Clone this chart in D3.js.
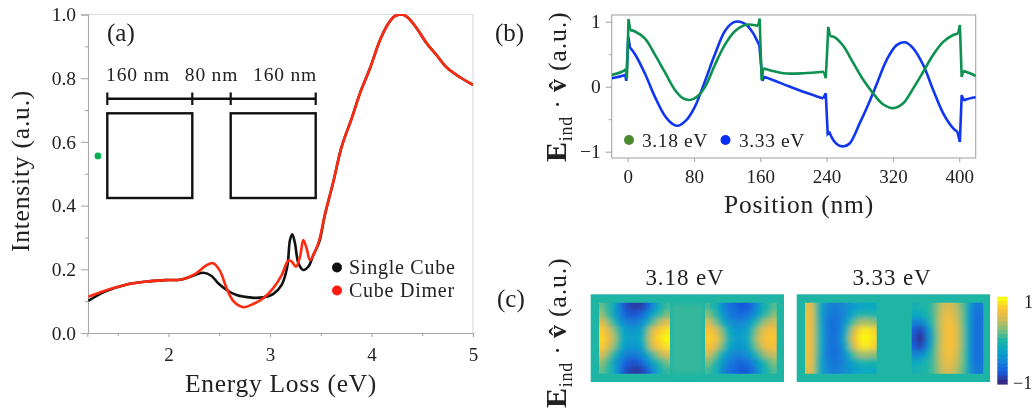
<!DOCTYPE html>
<html><head><meta charset="utf-8">
<script src="https://cdn.jsdelivr.net/npm/d3@7"></script>
<style>
html,body{margin:0;padding:0;background:#fff;overflow:hidden}
svg{display:block;filter:blur(0.45px)}
text{font-family:"Liberation Serif",serif;fill:#222}
</style></head><body><div id="c"></div>
<script>
// ---------- panel (a) data ----------
const energySingle=[1.21,1.374,1.571,1.768,1.965,2.13,2.26,2.343,2.425,2.49,2.573,2.67,2.82,2.934,3.03,3.115,3.17,3.197,3.22,3.246,3.28,3.328,3.377,3.427,3.486,3.54,3.624,3.706,3.805,3.887,3.985,4.084,4.166,4.23,4.3,4.36,4.445,4.543,4.642,4.74,4.872,5];
const intensitySingle=[.101,.13,.151,.161,.166,.168,.182,.189,.179,.156,.135,.119,.111,.112,.122,.151,.208,.292,.31,.282,.219,.198,.208,.245,.287,.37,.475,.585,.674,.753,.831,.92,.972,.995,1,.99,.957,.91,.872,.834,.803,.779];
const energyDimer=[1.21,1.374,1.571,1.768,1.965,2.13,2.26,2.376,2.44,2.507,2.573,2.64,2.737,2.835,2.934,3.03,3.115,3.18,3.214,3.256,3.296,3.328,3.36,3.394,3.443,3.486,3.54,3.624,3.706,3.805,3.887,3.985,4.084,4.166,4.23,4.3,4.36,4.445,4.543,4.642,4.74,4.872,5];
const intensityDimer=[.114,.133,.151,.161,.166,.168,.185,.213,.219,.195,.14,.1,.081,.091,.109,.14,.182,.227,.224,.208,.24,.292,.267,.229,.255,.292,.37,.475,.585,.674,.753,.831,.92,.972,.995,1,.99,.957,.91,.872,.834,.803,.779];
const greenPointE=[1.305], greenPointI=[.556];
const aXTicks=[2,3,4,5], aXMinor=[1.5,2.5,3.5,4.5];
const aYTicks=[0,.2,.4,.6,.8,1], aYMinor=[.1,.3,.5,.7,.9];
const legendA=["Single Cube","Cube Dimer"];
const schematicLabels=["160 nm","80 nm","160 nm"];
const schematicEdges=[0,160,240,400];
// ---------- panel (b) data ----------
const posGreen=[-19.3,-7,-2.4,-1,1,3,8.8,20.9,33,45,57,67,75,83,93,105,117,129,141.5,151.5,157.5,159.2,161.6,163.6,173.7,187.7,211.8,236.8,238.9,240.5,242,244,250,260,272,284,296,308,320.4,332.4,344.5,356.6,368.6,380.7,392.8,398.8,400.8,403,404.8,413,419.8];
const valGreen=[.18,.23,.268,.13,1.04,.87,.85,.74,.49,.22,-.05,-.18,-.205,-.16,-.01,.33,.64,.85,.95,.95,.935,1.05,.1,.283,.246,.206,.206,.23,.13,.5,.92,.78,.76,.63,.37,.11,-.1,-.27,-.33,-.255,-.025,.23,.49,.69,.795,.82,.95,.15,.246,.206,.165];
const posBlue=[-19.3,-7,-3,-1.7,.7,2.8,8.8,20.9,33,45,55,61,71,81,93,105,117,127,135.5,143.5,151.5,156.8,158.8,162.8,164.4,187.7,211.8,236,239,241.3,243,248,254,261,268,280,290,300,312.4,324.5,334.5,344.5,356.6,368.6,380.7,392.8,397.7,400.8,403,405.7,409,419.8];
const valBlue=[.13,.165,.18,.09,.77,.6,.5,.2,-.16,-.45,-.58,-.6,-.51,-.31,.077,.49,.85,.985,1,.95,.82,.69,.64,.09,.155,.04,-.077,-.18,-.1,-.72,-.69,-.82,-.9,-.917,-.87,-.56,-.28,.026,.41,.64,.683,.59,.334,-.05,-.41,-.64,-.69,-.85,-.13,-.215,-.194,-.163];
const jumpsGreen=[[-2.4,3],[157.5,163.6],[236.8,244],[398.8,404.8]];
const jumpsBlue=[[-3,2.8],[158.8,164.4],[236,243],[397.7,405.7]];
const bXTicks=[0,80,160,240,320,400];
const bYTicks=[-1,0,1], bYMinor=[-.5,.5];
const legendB=["3.18 eV","3.33 eV"];
// ---------- panel (c) data (value grids, rows top to bottom) ----------
const heat318a=[
[.2,.05,-.02,-.3,-.6,-.8,-.88,-.92,-.92,-.85,-.7,-.45,-.2,-.02,.08],
[.35,.12,-.05,-.32,-.55,-.7,-.8,-.8,-.75,-.6,-.4,-.18,-.02,.12,.25],
[.6,.4,.15,-.1,-.35,-.5,-.55,-.55,-.5,-.35,-.1,.15,.35,.5,.6],
[.8,.65,.45,.2,-.1,-.3,-.35,-.35,-.3,-.1,.3,.6,.75,.85,.92],
[.85,.72,.55,.3,-.05,-.25,-.3,-.3,-.25,-.05,.4,.7,.85,.95,1],
[.8,.65,.45,.2,-.1,-.3,-.35,-.35,-.3,-.1,.3,.6,.75,.85,.92],
[.6,.4,.15,-.1,-.35,-.5,-.55,-.55,-.5,-.35,-.1,.15,.35,.5,.6],
[.35,.12,-.05,-.32,-.55,-.7,-.8,-.8,-.75,-.6,-.4,-.18,-.02,.12,.25],
[.2,.05,-.02,-.3,-.6,-.8,-.88,-.92,-.92,-.85,-.7,-.45,-.2,-.02,.08]];
const heat318b=[
[.1,0,-.1,-.4,-.6,-.65,-.72,-.78,-.78,-.7,-.55,-.3,-.08,.02,.15],
[.3,.12,-.05,-.3,-.5,-.6,-.65,-.7,-.65,-.55,-.4,-.18,0,.15,.3],
[.55,.4,.15,-.1,-.3,-.45,-.5,-.5,-.45,-.3,-.1,.15,.35,.45,.5],
[.75,.7,.5,.25,-.05,-.25,-.35,-.35,-.3,-.1,.2,.45,.65,.72,.7],
[.8,.8,.65,.4,.05,-.2,-.3,-.3,-.25,-.05,.3,.55,.7,.78,.75],
[.75,.7,.5,.25,-.05,-.25,-.35,-.35,-.3,-.1,.2,.45,.65,.72,.7],
[.55,.4,.15,-.1,-.3,-.45,-.5,-.5,-.45,-.3,-.1,.15,.35,.45,.5],
[.3,.12,-.05,-.3,-.5,-.6,-.65,-.7,-.65,-.55,-.4,-.18,0,.15,.3],
[.1,0,-.1,-.4,-.6,-.65,-.72,-.78,-.78,-.7,-.55,-.3,-.08,.02,.15]];
const heat333a=[
[.6,.55,.1,-.3,-.45,-.55,-.55,-.5,-.45,-.35,-.3,-.25,-.2,-.2,-.2],
[.65,.6,.1,-.3,-.5,-.6,-.6,-.55,-.45,-.3,-.15,-.05,0,-.02,-.05],
[.65,.6,.15,-.3,-.55,-.65,-.65,-.55,-.35,-.05,.2,.35,.4,.35,.3],
[.7,.6,.15,-.25,-.55,-.65,-.65,-.5,-.2,.25,.6,.85,.95,.9,.8],
[.7,.6,.15,-.25,-.55,-.65,-.62,-.45,-.1,.4,.75,.95,1,.95,.85],
[.7,.6,.15,-.25,-.55,-.65,-.65,-.5,-.2,.25,.6,.85,.95,.9,.8],
[.65,.6,.15,-.3,-.55,-.65,-.65,-.55,-.35,-.05,.2,.35,.4,.35,.3],
[.65,.6,.1,-.3,-.5,-.6,-.6,-.55,-.45,-.3,-.15,-.05,0,-.02,-.05],
[.6,.55,.1,-.3,-.45,-.55,-.55,-.5,-.45,-.35,-.3,-.25,-.2,-.2,-.2]];
const heat333b=[
[-.1,-.05,0,0,.1,.3,.5,.55,.5,.4,.2,-.05,-.45,-.6,-.55],
[-.2,-.2,-.1,0,.1,.35,.55,.65,.6,.45,.25,-.05,-.5,-.65,-.6],
[-.5,-.55,-.4,-.15,.05,.35,.6,.7,.68,.5,.25,-.05,-.5,-.68,-.6],
[-.75,-.9,-.8,-.4,0,.35,.6,.72,.72,.55,.3,-.05,-.5,-.7,-.6],
[-.8,-1,-.9,-.5,-.05,.3,.6,.72,.72,.55,.3,-.05,-.5,-.7,-.6],
[-.75,-.9,-.8,-.4,0,.35,.6,.72,.72,.55,.3,-.05,-.5,-.7,-.6],
[-.5,-.55,-.4,-.15,.05,.35,.6,.7,.68,.5,.25,-.05,-.5,-.68,-.6],
[-.2,-.2,-.1,0,.1,.35,.55,.65,.6,.45,.25,-.05,-.5,-.65,-.6],
[-.1,-.05,0,0,.1,.3,.5,.55,.5,.4,.2,-.05,-.45,-.6,-.55]];
const gapValue318=[.06];
const heatTitles=["3.18 eV","3.33 eV"];
const colorbarLevels=[1,.9,.8,.7,.6,.5,.4,.3,.2,.1,0,-.1,-.2,-.3,-.4,-.5,-.6,-.7,-.8,-.9,-1];
const parulaDomain=[-1,-.75,-.5,-.25,0,.25,.5,.75,1];
const parulaColors=["#352a87","#1460e0","#1485d4","#09a5c8","#1fb5a5","#7dbf7a","#d1bb59","#fdc135","#f9fb0e"];

// ---------- setup ----------
const svg=d3.select("#c").append("svg").attr("width",1034).attr("height",410);
const defs=svg.append("defs");
const parula=d3.scaleLinear().domain(parulaDomain).range(parulaColors);
const axisGray="#a8a8a8";
function styleAxis(g,size){
  g.selectAll("path,line").attr("stroke",axisGray).attr("stroke-width",1.1);
  g.selectAll("text").attr("font-size",size).attr("fill","#333");
}
function fmtMinus(v){return String(v).replace("-","\u2212");}
function clip(id,x,y,w,h){defs.append("clipPath").attr("id",id).append("rect").attr("x",x).attr("y",y).attr("width",w).attr("height",h);}

// ---------- panel (a) ----------
const ax=d3.scaleLinear().domain([1.2,5]).range([87.3,473]);
const ay=d3.scaleLinear().domain([0,1]).range([333,14.5]);
const aG=svg.append("g");
aG.append("path").attr("d",`M88,14.5H473V333`).attr("fill","none").attr("stroke","#dcdcdc").attr("stroke-width",1.2);
aG.append("g").attr("transform","translate(0,333)").call(d3.axisBottom(ax).tickValues(aXMinor).tickSize(3).tickFormat("")).call(styleAxis,17).select(".domain").remove();
aG.append("g").attr("transform","translate(0,333)").call(d3.axisBottom(ax).tickValues(aXTicks).tickSizeOuter(0).tickSize(4).tickPadding(11).tickFormat(d3.format("d"))).call(styleAxis,19);
aG.append("g").attr("transform","translate(88,0)").call(d3.axisLeft(ay).tickValues(aYMinor).tickSize(3).tickFormat("")).call(styleAxis,17).select(".domain").remove();
aG.append("g").attr("transform","translate(88,0)").call(d3.axisLeft(ay).tickValues(aYTicks).tickSizeOuter(0).tickSize(7).tickPadding(5).tickFormat(d3.format(".1f"))).call(styleAxis,19.5);
clip("clipA",88,14,385,319);
const aLines=aG.append("g").attr("clip-path","url(#clipA)");
const lineA=d3.line().x(d=>ax(d[0])).y(d=>ay(d[1])).curve(d3.curveCatmullRom.alpha(0.5));
aLines.append("path").attr("d",lineA(d3.zip(energySingle,intensitySingle))).attr("fill","none").attr("stroke","#111").attr("stroke-width",2.6);
aLines.append("path").attr("d",lineA(d3.zip(energyDimer,intensityDimer))).attr("fill","none").attr("stroke","#ff2a10").attr("stroke-width",2.6);
aG.selectAll(".gp").data(d3.zip(greenPointE,greenPointI)).join("circle").attr("cx",d=>ax(d[0])).attr("cy",d=>ay(d[1])).attr("r",3.4).attr("fill","#00b050");
aG.append("text").attr("x",107).attr("y",41).attr("font-size",25).text("(a)");
aG.append("text").attr("x",281).attr("y",392).attr("text-anchor","middle").attr("font-size",25.5).attr("letter-spacing",0.7).text("Energy Loss (eV)");
aG.append("text").attr("transform","translate(29,171) rotate(-90)").attr("text-anchor","middle").attr("font-size",25.5).attr("letter-spacing",0.8).text("Intensity (a.u.)");
legendA.forEach((t,i)=>{
  const yy=[267.5,290.5][i];
  aG.append("circle").attr("cx",337).attr("cy",yy).attr("r",5).attr("fill",["#111","#ff1a10"][i]);
  aG.append("text").attr("x",349).attr("y",yy+6).attr("font-size",20).attr("letter-spacing",0.75).text(t);
});
// schematic
const sx=d3.scaleLinear().domain([0,160,240,400]).range([107.3,192.3,230.7,315.7]);
const sk=aG.append("g");
sk.append("line").attr("x1",sx(schematicEdges[0])).attr("x2",sx(schematicEdges[3])).attr("y1",98.7).attr("y2",98.7).attr("stroke","#111").attr("stroke-width",2.4);
sk.selectAll(".t").data(schematicEdges).join("line").attr("x1",d=>sx(d)).attr("x2",d=>sx(d)).attr("y1",92.5).attr("y2",105).attr("stroke","#111").attr("stroke-width",2.2);
[[0,160],[240,400]].forEach(r=>sk.append("rect").attr("x",sx(r[0])).attr("y",113.3).attr("width",sx(r[1])-sx(r[0])).attr("height",84.7).attr("fill","none").attr("stroke","#111").attr("stroke-width",2.4));
schematicLabels.forEach((t,i)=>sk.append("text").attr("x",[138,211.5,285][i]).attr("y",81).attr("text-anchor","middle").attr("font-size",19.5).attr("letter-spacing",0.8).text(t));

// ---------- panel (b) ----------
const bx=d3.scaleLinear().domain([0,400]).range([627.7,959.2]);
const by=d3.scaleLinear().domain([-1,1]).range([151.7,21.7]);
const bG=svg.append("g");
bG.append("rect").attr("x",611.7).attr("y",15).attr("width",364).attr("height",143).attr("fill","none").attr("stroke",axisGray).attr("stroke-width",1.1);
bG.append("g").attr("transform","translate(0,158)").call(d3.axisBottom(bx).tickValues(bXTicks).tickSizeOuter(0).tickSize(4).tickPadding(8).tickFormat(d3.format("d"))).call(styleAxis,19).select(".domain").remove();
bG.append("g").attr("transform","translate(611.7,0)").call(d3.axisLeft(by).tickValues(bYMinor).tickSize(3).tickFormat("")).call(styleAxis,17).select(".domain").remove();
bG.append("g").attr("transform","translate(611.7,0)").call(d3.axisLeft(by).tickValues(bYTicks).tickSizeOuter(0).tickSize(6).tickPadding(5).tickFormat(fmtMinus)).call(styleAxis,19.5).select(".domain").remove();
clip("clipB",612,15,364,143);
const bLines=bG.append("g").attr("clip-path","url(#clipB)");
// smooth stretches joined by straight jumps at the cube faces
function jumpPath(xs,ys,jumps){
  const pts=d3.zip(xs,ys);
  const smooth=d3.line().x(d=>bx(d[0])).y(d=>by(d[1])).curve(d3.curveCatmullRom.alpha(0.5));
  const straight=d3.line().x(d=>bx(d[0])).y(d=>by(d[1]));
  let out="",start=xs[0];
  jumps.forEach(j=>{
    out+=smooth(pts.filter(p=>p[0]>=start&&p[0]<=j[0]));
    out+=straight(pts.filter(p=>p[0]>=j[0]&&p[0]<=j[1]));
    start=j[1];
  });
  out+=smooth(pts.filter(p=>p[0]>=start));
  return out;
}
bLines.append("path").attr("d",jumpPath(posBlue,valBlue,jumpsBlue)).attr("fill","none").attr("stroke","#1036ee").attr("stroke-width",2.6);
bLines.append("path").attr("d",jumpPath(posGreen,valGreen,jumpsGreen)).attr("fill","none").attr("stroke","#0d9150").attr("stroke-width",2.6);
legendB.forEach((t,i)=>{
  bG.append("circle").attr("cx",[629,725.5][i]).attr("cy",140).attr("r",5).attr("fill",["#4a8a30","#0a2ef0"][i]);
  bG.append("text").attr("x",[642,739][i]).attr("y",146.5).attr("font-size",19.5).attr("letter-spacing",0.6).text(t);
});
bG.append("text").attr("x",495).attr("y",41).attr("font-size",25).text("(b)");
bG.append("text").attr("x",799).attr("y",213).attr("text-anchor","middle").attr("font-size",25.5).attr("letter-spacing",0.8).text("Position (nm)");
function eLabel(sel,tx,ty){
  const t=sel.append("text").attr("transform",`translate(${tx},${ty}) rotate(-90)`).attr("font-size",26).attr("letter-spacing",0.75);
  t.append("tspan").attr("font-weight","bold").attr("font-size",30).text("E");
  t.append("tspan").attr("font-size",18).attr("dy",6).text("ind");
  t.append("tspan").attr("dy",-6).text(" \u00B7 ");
  t.append("tspan").attr("font-weight","bold").text("v\u0302");
  t.append("tspan").text(" (a.u.)");
}
eLabel(bG,566,162);

// ---------- panel (c) ----------
const cG=svg.append("g");
defs.append("filter").attr("id","soft").attr("filterUnits","userSpaceOnUse").attr("x",560).attr("y",270).attr("width",470).attr("height",130)
  .append("feGaussianBlur").attr("stdDeviation",2.4);
const panels=[[590.7,784],[796.7,990]];
panels.forEach(p=>cG.append("rect").attr("x",p[0]).attr("y",294.3).attr("width",p[1]-p[0]).attr("height",87.7).attr("fill",parula(0)));
cG.append("g").attr("filter","url(#soft)")
  .selectAll("rect").data(gapValue318).join("rect").attr("x",672).attr("y",304).attr("width",31).attr("height",69).attr("fill",d=>parula(d));
function drawCube(grid,id,x0,x1,y0,y1){
  clip(id,x0,y0,x1-x0,y1-y0);
  const cols=d3.scaleBand().domain(d3.range(grid[0].length)).range([x0,x1]);
  const rows=d3.scaleBand().domain(d3.range(grid.length)).range([y0,y1]);
  const g=cG.append("g").attr("clip-path",`url(#${id})`).append("g").attr("filter","url(#soft)");
  const pad=10,nc=grid[0].length,nr=grid.length;
  grid.forEach((row,r)=>{
    g.selectAll(null).data(row).join("rect")
      .attr("x",(d,c)=>cols(c)-(c===0?pad:0))
      .attr("y",rows(r)-(r===0?pad:0))
      .attr("width",(d,c)=>cols.bandwidth()+0.6+(c===0||c===nc-1?pad:0))
      .attr("height",rows.bandwidth()+0.6+(r===0||r===nr-1?pad:0))
      .attr("fill",d=>parula(d));
  });
}
drawCube(heat318a,"c1",599,670,302.7,373.7);
drawCube(heat318b,"c2",705,776.7,302.7,373.7);
drawCube(heat333a,"c3",805,876.7,302.7,373.7);
drawCube(heat333b,"c4",911.7,983.3,302.7,373.7);
heatTitles.forEach((t,i)=>cG.append("text").attr("x",[685,892][i]).attr("y",285).attr("text-anchor","middle").attr("font-size",23).attr("letter-spacing",0.9).text(t));
const cb=d3.scaleBand().domain(colorbarLevels).range([296.7,384]);
cG.append("g").selectAll("rect").data(colorbarLevels).join("rect").attr("x",997.3).attr("width",10.4).attr("y",d=>cb(d)).attr("height",cb.bandwidth()+0.6).attr("fill",d=>parula(d));
cG.append("text").attr("x",1024).attr("y",308).attr("font-size",18).text("1");
cG.append("text").attr("x",1013).attr("y",389).attr("font-size",18).text("\u22121");
cG.append("text").attr("x",497).attr("y",307).attr("font-size",25).text("(c)");
eLabel(cG,566,408);
</script></body></html>
